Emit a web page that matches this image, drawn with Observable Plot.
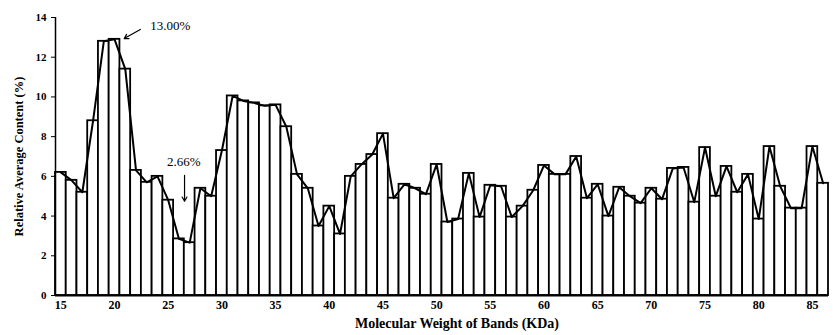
<!DOCTYPE html>
<html><head><meta charset="utf-8">
<script src="https://cdn.jsdelivr.net/npm/d3@7"></script>
<script src="https://cdn.jsdelivr.net/npm/@observablehq/plot@0.6"></script>
<style>body{margin:0;background:#fff} svg{display:block}</style>
</head><body><div id="chart"></div>
<script>
const weights = [15,16,17,18,19,20,21,22,23,24,25,26,27,28,29,30,31,32,33,34,35,36,37,38,39,40,41,42,43,44,45,46,47,48,49,50,51,52,53,54,55,56,57,58,59,60,61,62,63,64,65,66,67,68,69,70,71,72,73,74,75,76,77,78,79,80,81,82,83,84,85,86];
const contents = [6.2,5.8,5.2,8.8,12.8,12.9,11.4,6.3,5.7,6.0,4.8,2.85,2.66,5.4,5.0,7.3,10.05,9.8,9.7,9.55,9.6,8.5,6.1,5.4,3.5,4.5,3.1,6.0,6.6,7.1,8.15,4.9,5.6,5.4,5.1,6.6,3.7,3.85,6.15,3.95,5.55,5.5,3.95,4.5,5.3,6.55,6.1,6.1,7.0,4.9,5.6,4.0,5.45,5.0,4.65,5.4,4.85,6.4,6.45,4.7,7.45,5.0,6.5,5.2,6.1,3.85,7.5,5.5,4.4,4.4,7.5,5.65];
const xTicks = [15,20,25,30,35,40,45,50,55,60,65,70,75,80,85];
const yTicks = [0,2,4,6,8,10,12,14];
const xLabel = "Molecular Weight of Bands (KDa)";
const yLabel = "Relative Average Content (%)";
// annotations (data space)
const noteLabels = ["13.00%", "2.66%"];
const noteX = [25.2, 26.45];
const noteY = [13.6, 6.75];
const arrowX1 = [22.4, 26.52];
const arrowY1 = [13.4, 6.05];
const arrowX2 = [20.9, 26.52];
const arrowY2 = [12.94, 4.75];

const data = weights.map((w, i) => ({w, v: contents[i]}));
const notes = noteLabels.map((t, i) => ({t, x: noteX[i], y: noteY[i]}));
const arrows = arrowX1.map((x1, i) => ({x1, y1: arrowY1[i], x2: arrowX2[i], y2: arrowY2[i]}));
const serif = "'Liberation Serif', 'Times New Roman', serif";

const chart = Plot.plot({
  width: 833, height: 335,
  marginLeft: 55, marginRight: 5, marginTop: 17, marginBottom: 40,
  x: {domain: [14.5, 86.5], label: null},
  y: {domain: [0, 14], label: null},
  style: {fontFamily: serif, background: "white", color: "black"},
  marks: [
    Plot.rect(data, {x1: d => d.w - 0.5, x2: d => d.w + 0.5, y1: 0, y2: "v", fill: "white", stroke: "black", strokeWidth: 1.8}),
    Plot.line(data, {x: "w", y: "v", stroke: "black", strokeWidth: 2}),
    Plot.ruleY([0], {stroke: "black", strokeWidth: 2}),
    Plot.ruleX([14.5], {y1: 0, y2: 14, stroke: "black", strokeWidth: 1.5}),
    Plot.axisX({ticks: xTicks, tickSize: 0, tickPadding: 5, tickFormat: d => d, fontSize: 12, fontWeight: "bold", label: null}),
    Plot.axisY({ticks: yTicks, tickSize: 4, tickPadding: 5, fontSize: 11, fontWeight: "bold", label: null}),
    Plot.text([yLabel], {frameAnchor: "left", textAnchor: "middle", dx: -37, rotate: -90, fontSize: 12.5, fontWeight: "bold", fontFamily: serif}),
    Plot.text([xLabel], {frameAnchor: "bottom", dy: 32, dx: 15, fontSize: 14, fontWeight: "bold", fontFamily: serif}),
    Plot.text(notes, {x: "x", y: "y", text: "t", fontSize: 13, fontFamily: serif}),
    Plot.arrow(arrows, {x1: "x1", y1: "y1", x2: "x2", y2: "y2", stroke: "black", strokeWidth: 1.2, headLength: 6, bend: false})
  ]
});
document.getElementById("chart").append(chart);
</script>
</body></html>
